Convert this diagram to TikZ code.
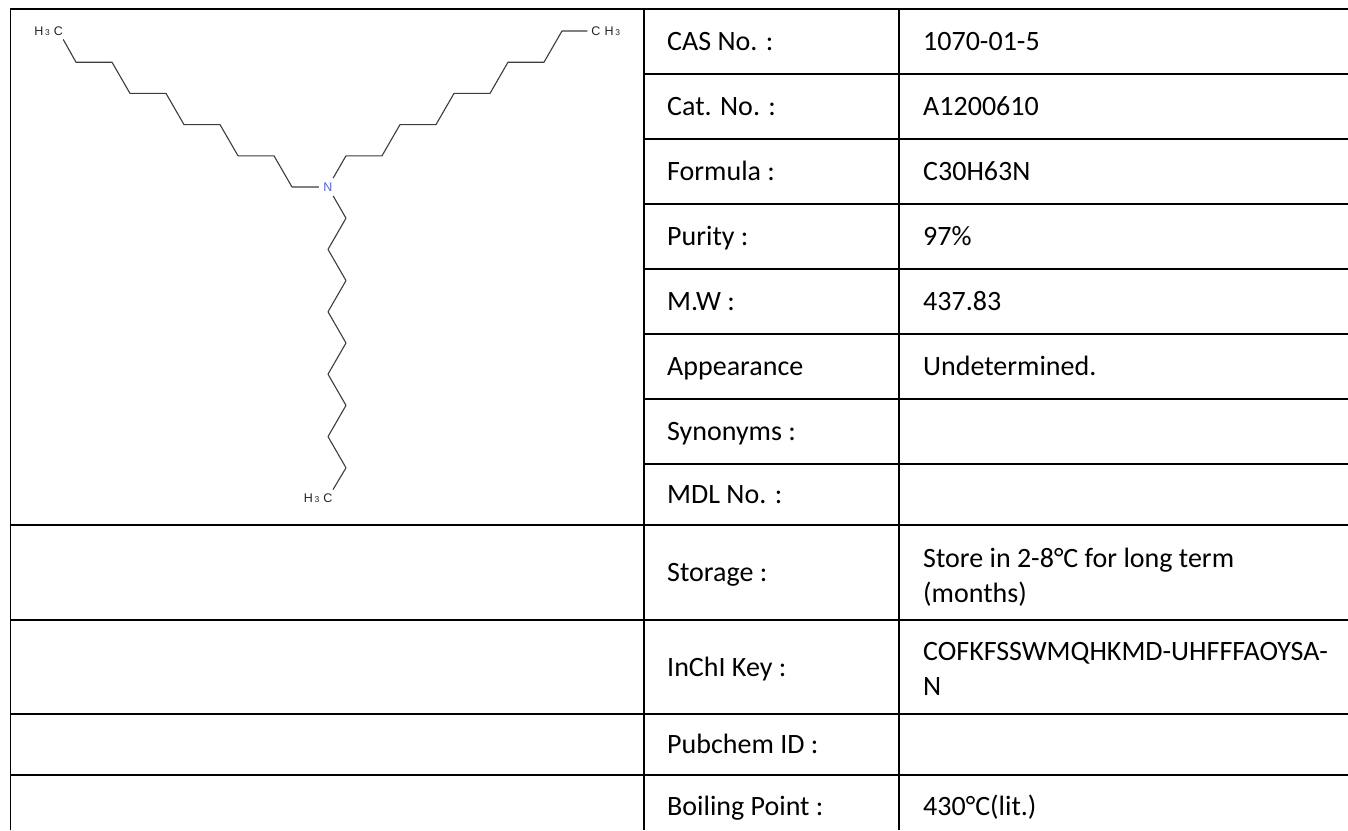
\documentclass[tikz,border=0pt]{standalone}
\usepackage{fontspec}
\setmainfont{Carlito}
\newfontfamily\molfont{Liberation Sans}
\definecolor{nblue}{RGB}{70,100,245}
\definecolor{bondgray}{RGB}{60,60,60}
\newcommand{\hthree}{H\kern1.6pt\raisebox{-0.6pt}{\fontsize{8.5}{8.5}\selectfont 3}}
\begin{document}
\begin{tikzpicture}[x=1pt,y=-1pt,
  gridline/.style={line width=1.8pt, draw=black},
  bond/.style={line width=1.1pt, draw=bondgray, line join=round},
  lbl/.style={inner sep=0pt, anchor=base west, font=\fontsize{28}{34}\selectfont, text=black},
  atom/.style={inner sep=3.8pt, font=\molfont\fontsize{12.5}{12.5}\selectfont, text=black!85},
  hyd/.style={inner sep=0pt, font=\molfont\fontsize{12.5}{12.5}\selectfont, text=black!85},
]
\useasboundingbox (0,0) rectangle (1348,830);
\fill[white] (0,0) rectangle (1348,830);

% ---------- table grid ----------
\draw[gridline] (10.5,830) -- (10.5,9.3) -- (1348,9.3);
\draw[gridline] (644,9.3) -- (644,830);
\draw[gridline] (899,9.3) -- (899,830);
\foreach \yy in {74,139,204,269,334,399,464}
  \draw[gridline] (644,\yy) -- (1348,\yy);
\foreach \yy in {525,620,714,775}
  \draw[gridline] (10.5,\yy) -- (1348,\yy);

% ---------- table text ----------
\node[lbl] (k1) at (667,50.5) {CAS No. :};
\node[lbl] (v1) at (923,50.5) {1070-01-5};
\node[lbl] (k2) at (667,115.5) {Cat. No. :};
\node[lbl] (v2) at (923,115.5) {A1200610};
\node[lbl] (k3) at (667,180.5) {Formula :};
\node[lbl] (v3) at (923,180.5) {C30H63N};
\node[lbl] (k4) at (667,245.5) {Purity :};
\node[lbl] (v4) at (923,245.5) {97\%};
\node[lbl] (k5) at (667,310.5) {M.W :};
\node[lbl] (v5) at (923,310.5) {437.83};
\node[lbl] (k6) at (667,375.5) {Appearance};
\node[lbl] (v6) at (923,375.5) {Undetermined.};
\node[lbl] (k7) at (667,440.5) {Synonyms :};
\node[lbl] (k8) at (667,503.5) {MDL No. :};
\node[lbl] (k9) at (667,581.5) {Storage :};
\node[lbl] (v9a) at (923,567) {Store in 2-8°C for long term};
\node[lbl] (v9b) at (923,602) {(months)};
\node[lbl] (k10) at (667,676) {InChI Key :};
\node[lbl] (v10a) at (923,660) {COFKFSSWMQHKMD-UHFFFAOYSA-};
\node[lbl] (v10b) at (923,695) {N};
\node[lbl] (k11) at (667,753.5) {Pubchem ID :};
\node[lbl] (k12) at (667,815) {Boiling Point :};
\node[lbl] (v12) at (923,815) {430°C(lit.)};

% ---------- molecule ----------
\node[atom, text=nblue, inner sep=4.5pt] (N) at (328,187) {N};
% left decyl chain
\coordinate (L1) at (292,187);
\coordinate (L2) at (274,155.8);
\coordinate (L3) at (238,155.8);
\coordinate (L4) at (220,124.6);
\coordinate (L5) at (184,124.6);
\coordinate (L6) at (166,93.4);
\coordinate (L7) at (130,93.4);
\coordinate (L8) at (112,62.2);
\coordinate (L9) at (76,62.2);
\node[atom] (CL) at (58.5,31) {C};
\node[hyd, anchor=base east] (HL) at (CL.base west) {\hthree};
% right decyl chain
\coordinate (R1) at (346,155.8);
\coordinate (R2) at (382,155.8);
\coordinate (R3) at (400,124.6);
\coordinate (R4) at (436,124.6);
\coordinate (R5) at (454,93.4);
\coordinate (R6) at (490,93.4);
\coordinate (R7) at (508,62.2);
\coordinate (R8) at (544,62.2);
\coordinate (R9) at (562,31);
\node[atom] (CR) at (596,31) {C};
\node[hyd, anchor=base west] (HR) at (CR.base east) {\hthree};
% bottom decyl chain
\coordinate (B1) at (346,218.2);
\coordinate (B2) at (328,249.4);
\coordinate (B3) at (346,280.6);
\coordinate (B4) at (328,311.8);
\coordinate (B5) at (346,343);
\coordinate (B6) at (328,374.2);
\coordinate (B7) at (346,405.4);
\coordinate (B8) at (328,436.6);
\coordinate (B9) at (346,467.8);
\node[atom] (CB) at (328,498) {C};
\node[hyd, anchor=base east] (HB) at (CB.base west) {\hthree};

\draw[bond] (N) -- (L1) -- (L2) -- (L3) -- (L4) -- (L5) -- (L6) -- (L7) -- (L8) -- (L9) -- (CL);
\draw[bond] (N) -- (R1) -- (R2) -- (R3) -- (R4) -- (R5) -- (R6) -- (R7) -- (R8) -- (R9) -- (CR);
\draw[bond] (N) -- (B1) -- (B2) -- (B3) -- (B4) -- (B5) -- (B6) -- (B7) -- (B8) -- (B9) -- (CB);
\end{tikzpicture}
\end{document}
